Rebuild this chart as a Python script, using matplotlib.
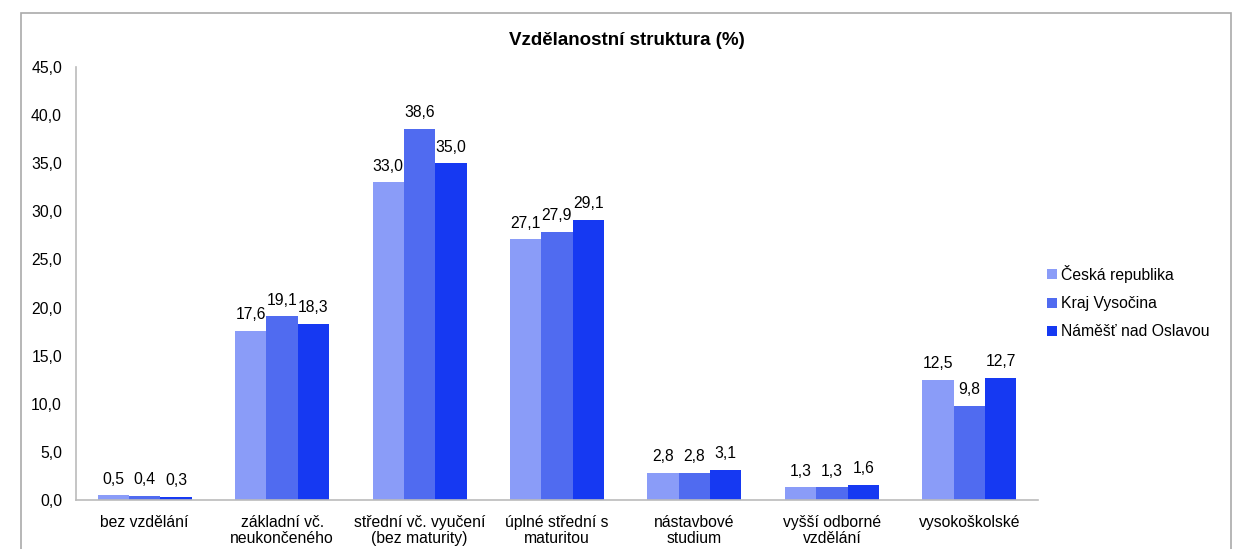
import matplotlib
matplotlib.use("Agg")
import matplotlib.pyplot as plt
import numpy as np
from matplotlib.patches import Rectangle

plt.rcParams["font.family"] = ["Liberation Sans", "DejaVu Sans"]

categories = ["bez vzdělání", "základní vč.\nneukončeného", "střední vč. vyučení\n(bez maturity)",
              "úplné střední s\nmaturitou", "nástavbové\nstudium", "vyšší odborné\nvzdělání",
              "vysokoškolské"]
series_names = ["Česká republika", "Kraj Vysočina", "Náměšť nad Oslavou"]
cr = [0.5, 17.6, 33.0, 27.1, 2.8, 1.3, 12.5]
vysocina = [0.4, 19.1, 38.6, 27.9, 2.8, 1.3, 9.8]
namest = [0.3, 18.3, 35.0, 29.1, 3.1, 1.6, 12.7]
colors = ["#8a9cf8", "#506bf0", "#1639f2"]

fs = 11.3
fig = plt.figure(figsize=(12.39, 5.49), dpi=100)
ax = fig.add_axes([0.0613, 0.0893, 0.7765, 0.7887])

x = np.arange(len(categories))
w = 0.228
for i, (vals, name, c) in enumerate(zip([cr, vysocina, namest], series_names, colors)):
    bars = ax.bar(x + (i - 1) * w, vals, w, color=c, label=name)
    for b, v in zip(bars, vals):
        ax.text(b.get_x() + b.get_width() / 2, v + 0.9, f"{v:.1f}".replace(".", ","),
                ha="center", va="bottom", fontsize=fs)

ax.set_xlim(-0.5, len(categories) - 0.5)
ax.set_ylim(0, 45)
ax.set_yticks(np.arange(0, 46, 5))
ax.set_yticklabels([f"{t:.1f}".replace(".", ",") for t in np.arange(0, 46, 5)], fontsize=fs)
ax.set_xticks(x)
ax.set_xticklabels(categories, fontsize=fs, linespacing=1.1)
ax.tick_params(axis="both", length=0)
ax.tick_params(axis="y", pad=10)
ax.tick_params(axis="x", pad=11)
for s in ["top", "right"]:
    ax.spines[s].set_visible(False)
for s in ["left", "bottom"]:
    ax.spines[s].set_color("#bbbbbb")
    ax.spines[s].set_linewidth(1.2)

fig.text(0.506, 0.927, "Vzdělanostní struktura (%)", ha="center", va="center",
         fontsize=13.5, fontweight="bold")

ax.legend(loc="center left", bbox_to_anchor=(0.995, 0.457), frameon=False, fontsize=fs,
          handlelength=0.6, handleheight=0.6, handletextpad=0.25, labelspacing=0.85)

fig.patches.append(Rectangle((0.017, -0.02), 0.9766, 0.996, transform=fig.transFigure,
                             fill=False, edgecolor="#aaaaaa", linewidth=1.2))

fig.savefig("out.png", dpi=100)
